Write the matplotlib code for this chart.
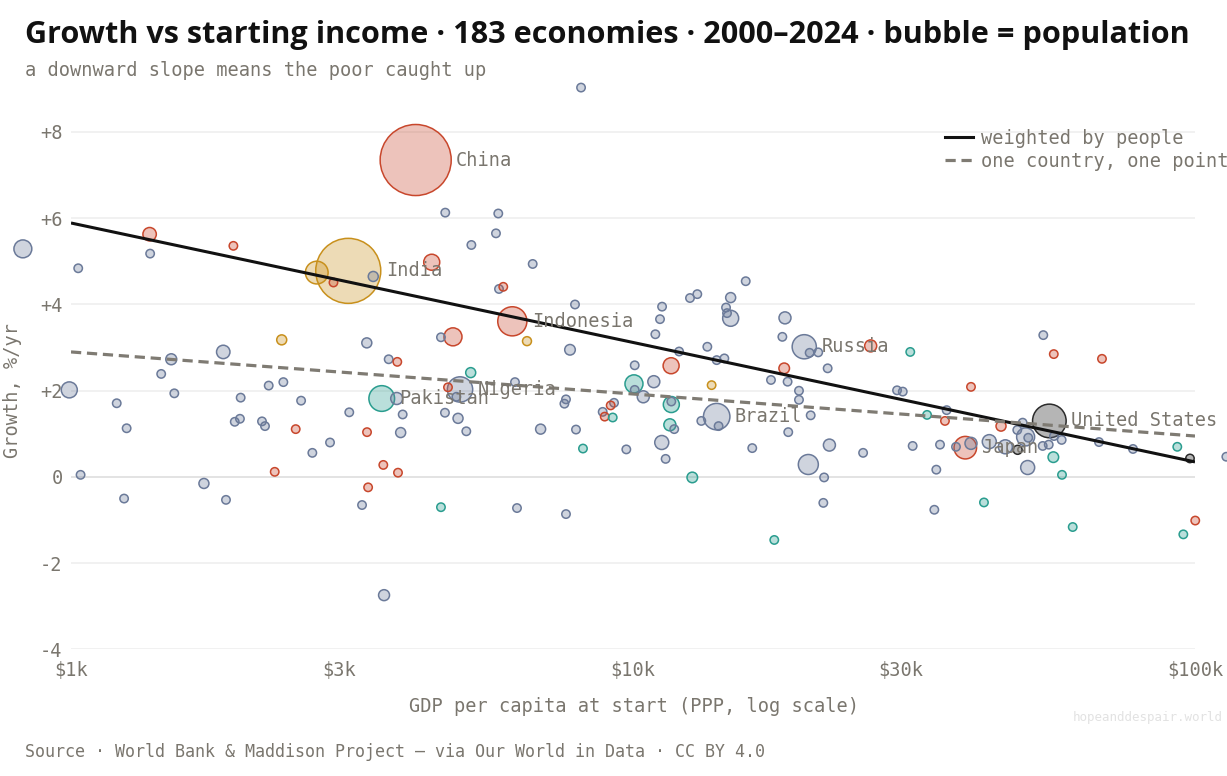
import numpy as np
import matplotlib
matplotlib.use("Agg")
import matplotlib.pyplot as plt
from matplotlib.colors import to_rgba
from matplotlib.ticker import FixedLocator, NullLocator, FuncFormatter
from matplotlib.lines import Line2D

# --- labelled economies -------------------------------------------------
label_names = ["China", "India", "Indonesia", "Pakistan", "Nigeria",
               "Brazil", "Russia", "Japan", "United States"]
label_gdp = [4105, 3114, 6099, 3572, 4923, 14090, 20170, 39020, 55060]
label_growth = [7.35, 4.78, 3.61, 1.82, 2.03, 1.40, 3.02, 0.68, 1.30]
label_pop = [1262, 1057, 212, 165, 160, 175, 146, 127, 282]
label_group = ["red", "gold", "red", "teal", "grey", "grey", "grey", "red", "black"]

# --- everyone else, by colour group (gdp at start $, growth %/yr, pop m) ---
grey_gdp = [821, 1030, 1383, 3450, 3360, 3675, 1508, 1866, 1447, 1527, 993, 1206,
            1256, 2248, 2387, 2004, 2567, 1956, 1998, 2187, 2214, 3127, 3798, 3892,
            3860, 2890, 2688, 1040, 1724, 1243, 1887, 3295, 6217, 7599, 3606, 4634,
            5758, 5704, 5157, 6630, 5775, 7885, 4553, 7725, 11265, 11170, 10959,
            12630, 13014, 15870, 14920, 14640, 14700, 14920, 18640, 18440, 17600,
            18840, 19740, 19740, 13560, 14090, 14540, 12080, 10070, 10890, 10430,
            10070, 11700, 11840, 13230, 14200, 18890, 16300, 11250, 11430, 9730,
            7917, 6849, 7599, 7550, 6166, 4628, 4883, 5051, 4850, 20620, 21360,
            22200, 20710, 22360, 20510, 21880, 9252, 8832, 21810, 25670, 29500,
            30200, 53710, 36150, 31450, 35180, 37560, 39940, 34650, 34370, 43050,
            45970, 48280, 49350, 49960, 50500, 50380, 53580, 54920, 56110, 57910,
            67480, 77570, 113700, 8083]
grey_growth = [5.29, 4.84, 5.18, 4.65, 3.11, 2.73, 2.73, 2.90, 2.39, 1.94, 2.02, 1.71,
               1.13, 2.12, 2.20, 1.84, 1.77, 1.28, 1.35, 1.29, 1.18, 1.50, 1.82, 1.45,
               1.03, 0.80, 0.56, 0.05, -0.15, -0.50, -0.53, -0.65, -0.72, -0.86, -2.74,
               6.13, 6.11, 5.65, 5.38, 4.94, 4.36, 4.00, 3.24, 2.95, 3.95, 3.66, 3.31,
               4.15, 4.24, 4.54, 4.16, 3.93, 3.80, 3.68, 3.69, 3.25, 2.25, 2.21, 2.00,
               1.79, 3.02, 2.71, 2.75, 2.91, 2.59, 2.21, 1.86, 2.02, 1.75, 1.11, 1.30,
               1.18, 1.04, 0.67, 0.80, 0.42, 0.64, 1.10, 1.11, 1.80, 1.70, 2.20, 1.49,
               1.36, 1.06, 1.86, 2.88, 2.89, 2.52, 1.43, 0.74, 0.29, -0.01, 1.72, 1.51,
               -0.60, 0.56, 2.01, 1.98, 3.29, 1.55, 0.72, 0.75, 0.70, 0.78, 0.17, -0.76,
               0.82, 0.70, 1.09, 1.26, 0.93, 0.91, 0.22, 0.72, 0.75, 0.95, 0.86, 0.81,
               0.65, 0.47, 9.03]
grey_pop = [80, 8, 8, 25, 25, 8, 30, 45, 10, 10, 64, 14,
            10, 14, 8, 8, 8, 8, 8, 8, 10, 10, 36, 8,
            25, 8, 8, 8, 25, 8, 8, 8, 10, 8, 30,
            8, 8, 8, 8, 8, 8, 8, 8, 28, 8, 8, 8,
            8, 14, 8, 25, 8, 8, 64, 36, 8, 10, 8, 8,
            8, 8, 8, 8, 8, 8, 36, 36, 8, 8, 8, 8,
            8, 8, 8, 49, 8, 8, 8, 25, 8, 8, 8, 8,
            25, 10, 8, 8, 8, 8, 8, 36, 100, 8, 8, 8,
            8, 8, 8, 8, 8, 8, 8, 8, 10, 36, 8, 8,
            49, 49, 8, 8, 81, 8, 49, 8, 8, 8, 8, 8,
            8, 8, 8]

red_gdp = [1380, 1945, 2931, 3807, 2511, 3363, 2304, 3595, 3818, 3378, 4384, 5877,
           4783, 11690, 18580, 4686, 9126, 8905, 26480, 39940, 56070, 68310, 35900,
           45170, 100100]
red_growth = [5.63, 5.36, 4.51, 2.67, 1.11, 1.04, 0.12, 0.28, 0.10, -0.24, 4.98, 4.41,
              3.25, 2.58, 2.52, 2.08, 1.66, 1.40, 3.04, 2.09, 2.85, 2.74, 1.30,
              1.18, -1.01]
red_pop = [45, 8, 8, 8, 8, 8, 8, 8, 8, 8, 64, 8,
           81, 64, 28, 8, 8, 8, 36, 8, 8, 8, 10,
           25, 8]

gold_gdp = [2737, 2371, 6477, 13800]
gold_growth = [4.74, 3.18, 3.15, 2.13]
gold_pop = [129, 25, 20, 8]

teal_gdp = [5143, 10040, 11700, 11630, 12750, 8147, 9203, 4553, 17840, 31140, 33360,
            42120, 55970, 57990, 60590, 93000, 95330]
teal_growth = [2.42, 2.16, 1.68, 1.21, -0.01, 0.66, 1.38, -0.70, -1.46, 2.90, 1.44,
               -0.59, 0.46, 0.05, -1.16, 0.70, -1.33]
teal_pop = [25, 81, 64, 36, 28, 8, 8, 8, 8, 8, 8,
            8, 28, 8, 8, 8, 8]

black_gdp = [48350, 97960]
black_growth = [0.63, 0.43]
black_pop = [20, 8]

# fitted trend lines, read at $1k and $100k
trend_gdp = [1000, 100000]
trend_weighted = [5.89, 0.35]
trend_unweighted = [2.90, 0.95]

x_ticks = [1000, 3000, 10000, 30000, 100000]
x_tick_labels = ["$1k", "$3k", "$10k", "$30k", "$100k"]
y_ticks = [-4, -2, 0, 2, 4, 6, 8]

GROUP_COLOR = {"grey": "#6b7a99", "red": "#c8472c", "gold": "#c8901c",
               "teal": "#2a9d8f", "black": "#2b2b2b"}
TEXT = "#7a766e"
MONO = "DejaVu Sans Mono"


def main():
    gdp, growth, pop, group = [], [], [], []
    for g, gr, p, name in [(grey_gdp, grey_growth, grey_pop, "grey"),
                           (red_gdp, red_growth, red_pop, "red"),
                           (gold_gdp, gold_growth, gold_pop, "gold"),
                           (teal_gdp, teal_growth, teal_pop, "teal"),
                           (black_gdp, black_growth, black_pop, "black"),
                           (label_gdp, label_growth, label_pop, None)]:
        gdp += g
        growth += gr
        pop += p
        group += [name] * len(g) if name else label_group

    gdp = np.array(gdp, float)
    growth = np.array(growth, float)
    pop = np.array(pop, float)
    radius = np.maximum(4.2, np.sqrt(pop))          # pixels
    sizes = (2 * radius * 0.72) ** 2                # points^2 at 100 dpi
    order = np.argsort(-pop)

    fig = plt.figure(figsize=(12.27, 7.76), dpi=100)
    ax = fig.add_axes([71 / 1227, 0.16302, 1124 / 1227, 0.73357])

    face = [to_rgba(GROUP_COLOR[group[i]], 0.32 if group[i] != "black" else 0.35) for i in order]
    edge = [to_rgba(GROUP_COLOR[group[i]], 1.0) for i in order]
    ax.scatter(gdp[order], growth[order], s=sizes[order], c=face, edgecolors=edge,
               linewidths=1.1, zorder=2, clip_on=False)

    ax.plot(trend_gdp, trend_weighted, color="#111111", lw=2.2, zorder=3,
            solid_capstyle="butt")
    ax.plot(trend_gdp, trend_unweighted, color="#7f7b73", lw=2.3, zorder=3,
            dashes=(3.2, 1.8))

    # labels right of the bubble
    for name, x, y, p in zip(label_names, label_gdp, label_growth, label_pop):
        off = (max(4.2, np.sqrt(p)) + 5) * 0.72
        ax.annotate(name, (x, y), xytext=(off, 0), textcoords="offset points",
                    ha="left", va="center", fontsize=13.4, family=MONO,
                    color=TEXT, zorder=4)

    ax.set_xscale("log")
    ax.set_xlim(1000, 100000)
    ax.set_ylim(-4, 9.2)
    ax.xaxis.set_major_locator(FixedLocator(x_ticks))
    ax.xaxis.set_minor_locator(NullLocator())
    ax.set_xticklabels(x_tick_labels)
    ax.yaxis.set_major_locator(FixedLocator(y_ticks))
    ax.yaxis.set_major_formatter(FuncFormatter(lambda v, _: "0" if v == 0 else f"{int(v):+d}"))
    ax.tick_params(length=0, labelsize=13.4, labelcolor=TEXT)
    ax.tick_params(axis="x", pad=8)
    ax.tick_params(axis="y", pad=6)
    for lab in ax.get_xticklabels() + ax.get_yticklabels():
        lab.set_family(MONO)
    for sp in ax.spines.values():
        sp.set_visible(False)
    for v in y_ticks:
        ax.axhline(v, color="#dedede" if v == 0 else "#efefef", lw=1.2, zorder=0)

    handles = [Line2D([], [], color="#111111", lw=2.2),
               Line2D([], [], color="#7f7b73", lw=2.3, dashes=(3.2, 1.8))]
    leg = ax.legend(handles, ["weighted by people", "one country, one point"],
                    loc="upper left", bbox_to_anchor=(945 / 1227, 1 - 129 / 776),
                    bbox_transform=fig.transFigure, frameon=False, borderpad=0,
                    borderaxespad=0, handlelength=1.5, handletextpad=0.45,
                    labelspacing=0.2, prop={"family": MONO, "size": 13.4})
    for t in leg.get_texts():
        t.set_color(TEXT)

    fig.text(25 / 1227, 1 - 35 / 776,
             "Growth vs starting income · 183 economies · 2000–2024 · bubble = population",
             family=["Open Sans", "Noto Sans", "DejaVu Sans"], weight="bold",
             fontsize=22.1, color="#111111", ha="left", va="center")
    fig.text(25 / 1227, 1 - 71 / 776, "a downward slope means the poor caught up",
             family=MONO, fontsize=13.4, color=TEXT, ha="left", va="center")
    fig.text(13 / 1227, 1 - 390 / 776, "Growth, %/yr", rotation=90, family=MONO,
             fontsize=13.4, color=TEXT, ha="center", va="center")
    fig.text(634 / 1227, 1 - 706 / 776, "GDP per capita at start (PPP, log scale)",
             family=MONO, fontsize=13.4, color=TEXT, ha="center", va="center")
    fig.text(25 / 1227, 1 - 752 / 776,
             "Source · World Bank & Maddison Project — via Our World in Data · CC BY 4.0",
             family=MONO, fontsize=12, color=TEXT, ha="left", va="center")
    fig.text(1223 / 1227, 1 - 717 / 776, "hopeanddespair.world", family=MONO,
             fontsize=9, color="#e2e2e2", ha="right", va="center")

    fig.savefig("out.png", dpi=100)


if __name__ == "__main__":
    main()
